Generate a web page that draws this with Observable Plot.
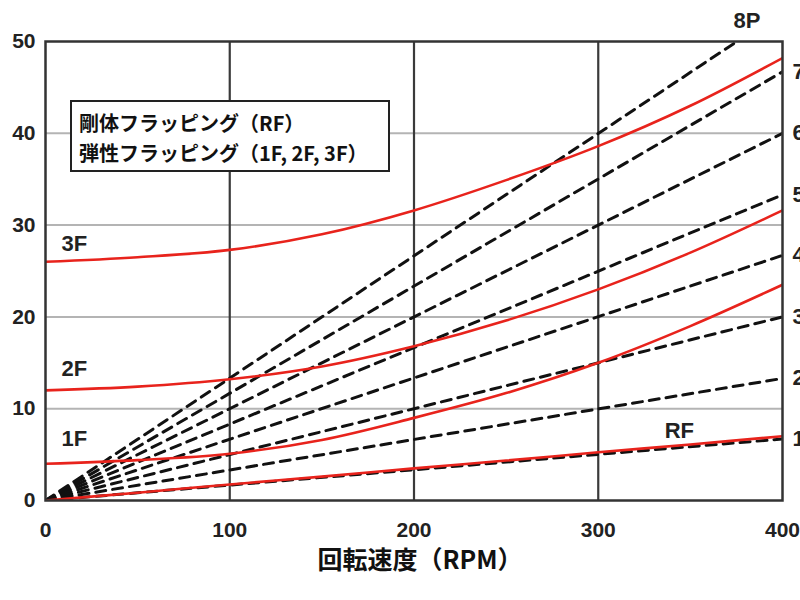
<!DOCTYPE html>
<html>
<head>
<meta charset="utf-8">
<script src="https://cdn.jsdelivr.net/npm/d3@7"></script>
<script src="https://cdn.jsdelivr.net/npm/@observablehq/plot@0.6"></script>
<style>
  html, body { margin: 0; padding: 0; background: #fff; }
  #wrap { position: relative; width: 800px; height: 600px; overflow: hidden; }
  #legend {
    position: absolute; left: 70px; top: 100px; width: 320px; height: 72px;
    border: 2px solid #222; background: #fff;
    font-family: "Noto Sans CJK JP", sans-serif; font-weight: 700; font-size: 20px;
    line-height: 30px; padding: 6px 0 0 7px; box-sizing: border-box; color: #111;
  }
</style>
</head>
<body>
<div id="wrap">
  <div id="chart"></div>
  <div id="legend">
    <div>剛体フラッピング（RF）</div>
    <div>弾性フラッピング（1F, 2F, 3F）</div>
  </div>
</div>
<script>
// Rotation speed samples (RPM)
const rpm = [0, 50, 100, 150, 200, 250, 300, 350, 400];
// Flapping mode frequencies (Hz)
const modeNames = ["RF", "1F", "2F", "3F"];
const modeRF = [0, 0.85, 1.75, 2.6, 3.5, 4.35, 5.25, 6.1, 7.0];
const mode1F = [4.0, 4.4, 5.1, 6.6, 9.0, 11.7, 15.0, 19.0, 23.5];
const mode2F = [12.0, 12.4, 13.2, 14.6, 16.8, 19.6, 23.0, 27.0, 31.6];
const mode3F = [26.0, 26.5, 27.3, 29.0, 31.6, 34.9, 38.6, 43.0, 48.2];

// Per-rev excitation lines (nP), value at 400 RPM
const orderNames = ["1P", "2P", "3P", "4P", "5P", "6P", "7P", "8P"];
const orderAt400 = [6.7, 13.3, 20.0, 26.7, 33.3, 40.0, 46.7, 53.3];

const xTicks = [0, 100, 200, 300, 400];
const yTicks = [0, 10, 20, 30, 40, 50];
const hGrid = [10, 20, 30, 40];
const vGrid = [100, 200, 300];

const modeSeries = [modeRF, mode1F, mode2F, mode3F];
const modeData = modeNames.flatMap((m, i) => rpm.map((r, j) => ({mode: m, rpm: r, f: modeSeries[i][j]})));
const orderData = orderNames.flatMap((o, i) => [{order: o, rpm: 0, f: 0}, {order: o, rpm: 400, f: orderAt400[i]}]);

const orderLabels = orderNames.slice(0, 7).map((o, i) => ({name: o, rpm: 400, f: orderAt400[i]}));
const top8 = {name: orderNames[7], rpm: 400 * 50 / orderAt400[7], f: 50};

const numFont = "Liberation Sans, Arial, sans-serif";
const cjkFont = "Noto Sans CJK JP, sans-serif";
const lbl = {fontSize: 22, fontWeight: "bold", fill: "#222", fontFamily: numFont};

function modeLabel(name, r, f, dx, dy, anchor) {
  return Plot.text([{name, rpm: r, f}], {x: "rpm", y: "f", text: "name", dx, dy, textAnchor: anchor, ...lbl});
}

const chart = Plot.plot({
  width: 800,
  height: 600,
  marginLeft: 45,
  marginRight: 18,
  marginTop: 41,
  marginBottom: 100,
  x: {domain: [0, 400], axis: null},
  y: {domain: [0, 50], axis: null},
  style: {fontFamily: numFont, background: "#fff", overflow: "visible"},
  marks: [
    Plot.ruleY(hGrid, {stroke: "#b4b4b4", strokeWidth: 2}),
    Plot.ruleX(vGrid, {stroke: "#3a3a3a", strokeWidth: 2.2}),
    Plot.line(orderData, {x: "rpm", y: "f", z: "order", stroke: "#111", strokeWidth: 3, strokeDasharray: "10,7", clip: true}),
    Plot.line(modeData, {x: "rpm", y: "f", z: "mode", stroke: "#e8231c", strokeWidth: 2.6, curve: "catmull-rom", clip: true}),
    Plot.frame({stroke: "#333", strokeWidth: 2.5}),
    Plot.axisY({ticks: yTicks, tickSize: 0, tickPadding: 10, fontSize: 21, fontWeight: "bold", fill: "#222", label: null}),
    Plot.axisX({ticks: xTicks, tickSize: 0, tickPadding: 22, fontSize: 21, fontWeight: "bold", fill: "#222", label: null}),
    Plot.text(["回転速度（RPM）"], {frameAnchor: "bottom", dy: 60, dx: 6, lineAnchor: "middle", fontSize: 25, fontWeight: "bold", fontFamily: cjkFont, fill: "#111"}),
    modeLabel(modeNames[3], rpm[0], mode3F[0], 16, -18, "start"),
    modeLabel(modeNames[2], rpm[0], mode2F[0], 16, -21, "start"),
    modeLabel(modeNames[1], rpm[0], mode1F[0], 16, -25, "start"),
    modeLabel(modeNames[0], rpm[7], modeRF[7], -11, -14, "middle"),
    Plot.text(orderLabels, {x: "rpm", y: "f", text: "name", dx: 10, textAnchor: "start", ...lbl}),
    Plot.text([top8], {x: "rpm", y: "f", text: "name", dx: 10, dy: -21, textAnchor: "middle", ...lbl})
  ]
});
document.getElementById("chart").appendChild(chart);
</script>
</body>
</html>
